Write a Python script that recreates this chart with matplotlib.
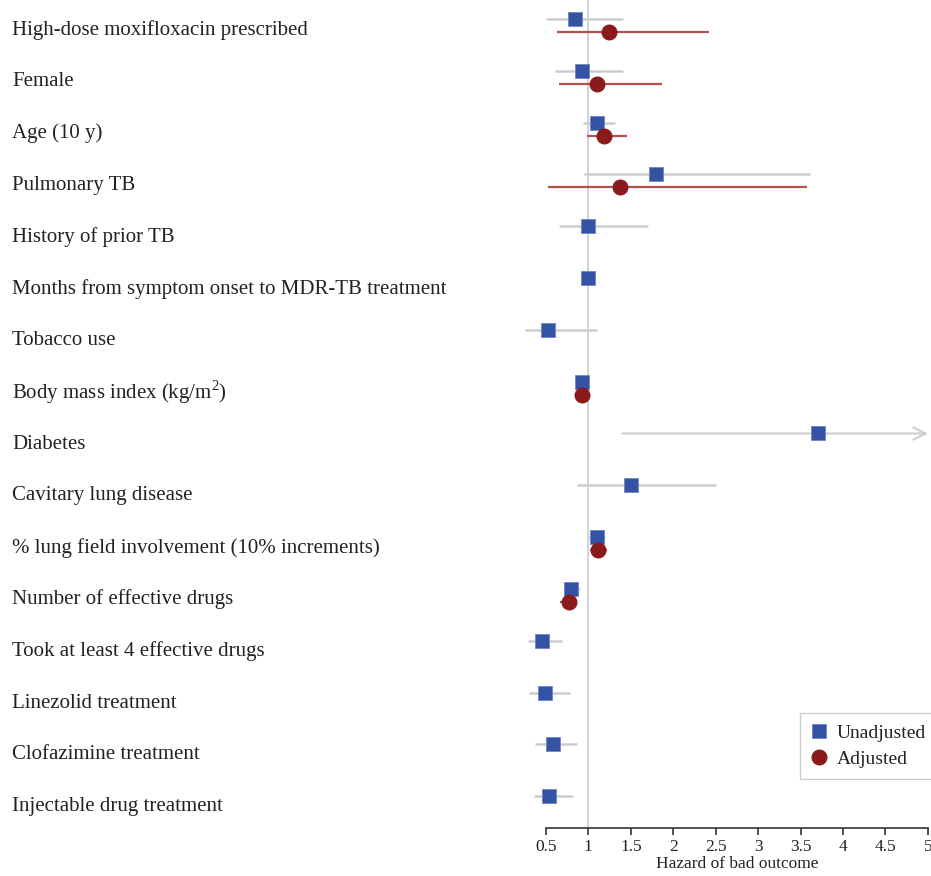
import numpy as np
import matplotlib
matplotlib.use('Agg')
import matplotlib.pyplot as plt
import matplotlib.transforms as mtransforms

plt.rcParams['font.family'] = ['Liberation Serif', 'DejaVu Serif']
plt.rcParams['mathtext.fontset'] = 'custom'
plt.rcParams['mathtext.rm'] = 'Liberation Serif'

labels = [
    'High-dose moxifloxacin prescribed',
    'Female',
    'Age (10 y)',
    'Pulmonary TB',
    'History of prior TB',
    'Months from symptom onset to MDR-TB treatment',
    'Tobacco use',
    r'Body mass index (kg/m$^{\mathrm{2}}$)',
    'Diabetes',
    'Cavitary lung disease',
    '% lung field involvement (10% increments)',
    'Number of effective drugs',
    'Took at least 4 effective drugs',
    'Linezolid treatment',
    'Clofazimine treatment',
    'Injectable drug treatment',
]

nan = np.nan
unadj_hr = [0.84, 0.92, 1.10, 1.80, 1.00, 1.00, 0.52, 0.92, 3.70, 1.50, 1.10, 0.80, 0.45, 0.49, 0.58, 0.54]
unadj_lo = [0.50, 0.61, 0.94, 0.95, 0.655, 0.99, 0.25, 0.91, 1.40, 0.87, 1.00, 0.71, 0.29, 0.30, 0.37, 0.36]
unadj_hi = [1.41, 1.41, 1.31, 3.61, 1.70, 1.01, 1.10, 0.93, 5.00, 2.50, 1.20, 0.90, 0.69, 0.79, 0.87, 0.82]
unadj_truncated = [False] * 8 + [True] + [False] * 7

adj_hr = [1.24, 1.10, 1.19, 1.37, nan, nan, nan, 0.92, nan, nan, 1.11, 0.77, nan, nan, nan, nan]
adj_lo = [0.63, 0.65, 0.98, 0.53, nan, nan, nan, 0.91, nan, nan, 1.02, 0.67, nan, nan, nan, nan]
adj_hi = [2.42, 1.87, 1.46, 3.58, nan, nan, nan, 0.93, nan, nan, 1.22, 0.87, nan, nan, nan, nan]

xticks = [0.5, 1, 1.5, 2, 2.5, 3, 3.5, 4, 4.5, 5]
xticklabels = ['0.5', '1', '1.5', '2', '2.5', '3', '3.5', '4', '4.5', '5']

BLUE = '#3553a5'
RED = '#8b1a1d'
GRAY_CI = '#cdcdcd'
RED_CI = '#b5504d'
TXT = '#222222'

W, H = 931, 876
fig = plt.figure(figsize=(W / 100, H / 100), dpi=100)
ax = fig.add_axes([520.4 / W, 48 / H, 410.6 / W, 828 / H])

y = -np.arange(len(labels), dtype=float)
off = 0.125

ax.axvline(1, color='#cccccc', lw=1.2, zorder=0)

for i in range(len(labels)):
    yu = y[i] + off
    if unadj_truncated[i]:
        ax.annotate('', xy=(unadj_hi[i], yu), xytext=(unadj_lo[i], yu),
                    arrowprops=dict(arrowstyle='->', color=GRAY_CI, lw=1.5,
                                    mutation_scale=22, shrinkA=0, shrinkB=0),
                    zorder=1)
    else:
        ax.plot([unadj_lo[i], unadj_hi[i]], [yu, yu], color=GRAY_CI, lw=1.8, zorder=1,
                solid_capstyle='butt')
    if not np.isnan(adj_hr[i]):
        ya = y[i] - off
        ax.plot([adj_lo[i], adj_hi[i]], [ya, ya], color=RED_CI, lw=1.6, zorder=1,
                solid_capstyle='butt')

ax.plot(unadj_hr, y + off, 's', color=BLUE, ms=10.5, mec='#6f86c2', mew=0.6,
        ls='none', zorder=3, label='Unadjusted')
ax.plot(adj_hr, y - off, 'o', color=RED, ms=10.5, mec=RED, ls='none', zorder=3,
        label='Adjusted')

ax.set_xlim(0.2, 5.036)
ax.set_ylim(-15.49, 0.492)

for s in ['left', 'right', 'top']:
    ax.spines[s].set_visible(False)
ax.spines['bottom'].set_bounds(0.5, 5)
ax.spines['bottom'].set_color('#333333')
ax.spines['bottom'].set_linewidth(1.2)
ax.set_yticks([])
ax.set_xticks(xticks)
ax.set_xticklabels(xticklabels)
ax.tick_params(axis='x', direction='out', length=5, width=1.2, colors='#333333',
               labelsize=12.5, labelcolor=TXT, pad=3)
ax.set_xlabel('Hazard of bad outcome', fontsize=12.5, color=TXT, labelpad=0)
ax.xaxis.set_label_coords((736.9 - 520.4) / 410.6, -0.034)

trans = mtransforms.blended_transform_factory(fig.transFigure, ax.transData)
for i, lab in enumerate(labels):
    ax.text(12 / W, y[i] - 0.08, lab, transform=trans, ha='left', va='center',
            fontsize=15, color=TXT, clip_on=False)

leg = fig.legend(loc='upper left', bbox_to_anchor=(800 / W, 1 - 713 / H),
                 frameon=True, fancybox=False, edgecolor='#cccccc', facecolor='white',
                 framealpha=1, fontsize=14, handlelength=0.8, handletextpad=0.5,
                 borderpad=0.6, labelspacing=0.4, markerscale=1.0, borderaxespad=0)
for t in leg.get_texts():
    t.set_color(TXT)

fig.savefig('out.png', dpi=100)
